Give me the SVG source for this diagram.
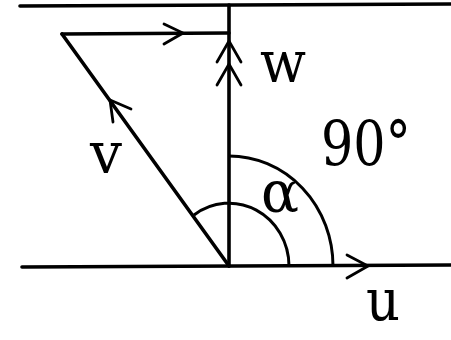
<svg xmlns="http://www.w3.org/2000/svg" width="451" height="340" viewBox="0 0 451 340">
<style>
.ln{stroke:#000;stroke-width:3.6;fill:none;stroke-linecap:round}
.ah{stroke:#000;stroke-width:2.8;fill:none;stroke-linecap:round;stroke-linejoin:miter}
.arc{stroke:#000;stroke-width:3;fill:none}
.lb{font-family:'DejaVu Serif','Liberation Serif',serif;font-size:58px;fill:#000}
</style>
<rect width="451" height="340" fill="#fff"/>
<g id="connectors">
<path class="ln" d="M20,6 L451,4"/>
<path class="ln" d="M22,267 L451,265"/>
<path class="ln" d="M229,5 L229,266"/>
<path class="ln" d="M62,34 L229,33"/>
<path class="ln" d="M62,34 L229,266"/>
<path class="ah" d="M164,24 L183,33 L164,44"/>
<path class="ah" d="M113,122 L110,100 L131,109"/>
<path class="ah" d="M217,62 L229,41 L241,62"/>
<path class="ah" d="M217,85 L229,64 L241,85"/>
<path class="ah" d="M347,255 L368,266 L347,278"/>
<path class="arc" d="M194,215 A60,63 0 0 1 289,266"/>
<path class="arc" d="M229,156 A104,110 0 0 1 333,266"/>
</g>
<g id="label-w"><text class="lb" x="260" y="82" textLength="46" lengthAdjust="spacingAndGlyphs">w</text></g>
<g id="label-v"><text class="lb" x="90" y="173" textLength="32" lengthAdjust="spacingAndGlyphs">v</text></g>
<g id="label-90"><text class="lb" x="321" y="165" style="font-size:62px" textLength="90" lengthAdjust="spacingAndGlyphs">90°</text></g>
<g id="label-alpha"><text class="lb" x="261" y="212" textLength="38" lengthAdjust="spacingAndGlyphs">α</text></g>
<g id="label-u"><text class="lb" x="366" y="320" textLength="34" lengthAdjust="spacingAndGlyphs">u</text></g>
</svg>
